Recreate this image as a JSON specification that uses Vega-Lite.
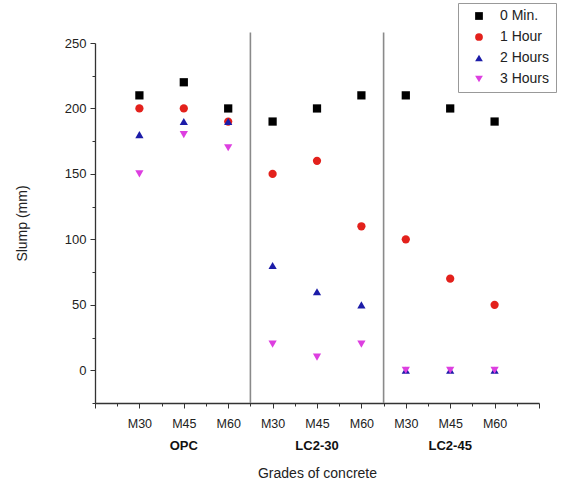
{
  "$schema": "https://vega.github.io/schema/vega-lite/v6.json",
  "width": 444,
  "height": 360,
  "autosize": {"type": "none"},
  "padding": {"left": 95, "top": 43, "right": 29, "bottom": 88},
  "background": "white",
  "config": {
    "font": "Liberation Sans",
    "view": {"stroke": null}
  },
  "datasets": {
    "points": [
      {"group": "OPC", "grade": "M30", "x": 1, "series": "0 Min.", "slump": 210},
      {"group": "OPC", "grade": "M45", "x": 2, "series": "0 Min.", "slump": 220},
      {"group": "OPC", "grade": "M60", "x": 3, "series": "0 Min.", "slump": 200},
      {"group": "LC2-30", "grade": "M30", "x": 4, "series": "0 Min.", "slump": 190},
      {"group": "LC2-30", "grade": "M45", "x": 5, "series": "0 Min.", "slump": 200},
      {"group": "LC2-30", "grade": "M60", "x": 6, "series": "0 Min.", "slump": 210},
      {"group": "LC2-45", "grade": "M30", "x": 7, "series": "0 Min.", "slump": 210},
      {"group": "LC2-45", "grade": "M45", "x": 8, "series": "0 Min.", "slump": 200},
      {"group": "LC2-45", "grade": "M60", "x": 9, "series": "0 Min.", "slump": 190},
      {"group": "OPC", "grade": "M30", "x": 1, "series": "1 Hour", "slump": 200},
      {"group": "OPC", "grade": "M45", "x": 2, "series": "1 Hour", "slump": 200},
      {"group": "OPC", "grade": "M60", "x": 3, "series": "1 Hour", "slump": 190},
      {"group": "LC2-30", "grade": "M30", "x": 4, "series": "1 Hour", "slump": 150},
      {"group": "LC2-30", "grade": "M45", "x": 5, "series": "1 Hour", "slump": 160},
      {"group": "LC2-30", "grade": "M60", "x": 6, "series": "1 Hour", "slump": 110},
      {"group": "LC2-45", "grade": "M30", "x": 7, "series": "1 Hour", "slump": 100},
      {"group": "LC2-45", "grade": "M45", "x": 8, "series": "1 Hour", "slump": 70},
      {"group": "LC2-45", "grade": "M60", "x": 9, "series": "1 Hour", "slump": 50},
      {"group": "OPC", "grade": "M30", "x": 1, "series": "2 Hours", "slump": 180},
      {"group": "OPC", "grade": "M45", "x": 2, "series": "2 Hours", "slump": 190},
      {"group": "OPC", "grade": "M60", "x": 3, "series": "2 Hours", "slump": 190},
      {"group": "LC2-30", "grade": "M30", "x": 4, "series": "2 Hours", "slump": 80},
      {"group": "LC2-30", "grade": "M45", "x": 5, "series": "2 Hours", "slump": 60},
      {"group": "LC2-30", "grade": "M60", "x": 6, "series": "2 Hours", "slump": 50},
      {"group": "LC2-45", "grade": "M30", "x": 7, "series": "2 Hours", "slump": 0},
      {"group": "LC2-45", "grade": "M45", "x": 8, "series": "2 Hours", "slump": 0},
      {"group": "LC2-45", "grade": "M60", "x": 9, "series": "2 Hours", "slump": 0},
      {"group": "OPC", "grade": "M30", "x": 1, "series": "3 Hours", "slump": 150},
      {"group": "OPC", "grade": "M45", "x": 2, "series": "3 Hours", "slump": 180},
      {"group": "OPC", "grade": "M60", "x": 3, "series": "3 Hours", "slump": 170},
      {"group": "LC2-30", "grade": "M30", "x": 4, "series": "3 Hours", "slump": 20},
      {"group": "LC2-30", "grade": "M45", "x": 5, "series": "3 Hours", "slump": 10},
      {"group": "LC2-30", "grade": "M60", "x": 6, "series": "3 Hours", "slump": 20},
      {"group": "LC2-45", "grade": "M30", "x": 7, "series": "3 Hours", "slump": 0},
      {"group": "LC2-45", "grade": "M45", "x": 8, "series": "3 Hours", "slump": 0},
      {"group": "LC2-45", "grade": "M60", "x": 9, "series": "3 Hours", "slump": 0}
    ],
    "separators": [
      {"x": 3.5, "y": -25, "y2": 258},
      {"x": 6.5, "y": -25, "y2": 258}
    ],
    "groups": [
      {"x": 2, "group": "OPC"},
      {"x": 5, "group": "LC2-30"},
      {"x": 8, "group": "LC2-45"}
    ]
  },
  "layer": [
    {
      "data": {"name": "separators"},
      "mark": {"type": "rule", "color": "#8a8a8a", "strokeWidth": 1.6, "clip": false},
      "encoding": {
        "x": {"field": "x", "type": "quantitative", "scale": {"domain": [0, 10], "nice": false, "zero": false}},
        "y": {"field": "y", "type": "quantitative", "scale": {"domain": [-25, 250], "nice": false, "zero": false}},
        "y2": {"field": "y2"}
      }
    },
    {
      "data": {"name": "points"},
      "mark": {"type": "point", "filled": true, "opacity": 1, "clip": false},
      "encoding": {
        "x": {
          "field": "x", "type": "quantitative",
          "scale": {"domain": [0, 10], "nice": false, "zero": false},
          "axis": {
            "title": "Grades of concrete",
            "titleFontSize": 14, "titleFontWeight": "normal", "titleColor": "#222",
            "titlePadding": 37,
            "values": [0, 0.5, 1, 1.5, 2, 2.5, 3, 3.5, 4, 4.5, 5, 5.5, 6, 6.5, 7, 7.5, 8, 8.5, 9, 9.5, 10],
            "tickCount": 200,
            "labelExpr": "(datum.value < 1 || datum.value > 9 || datum.value % 1 != 0) ? '' : (datum.value % 3 == 1 ? 'M30' : datum.value % 3 == 2 ? 'M45' : 'M60')",
            "labelFontSize": 12.5, "labelColor": "#222", "labelPadding": 9,
            "labelOverlap": false, "labelFlush": false,
            "tickColor": "#333",
            "tickSize": {"condition": {"test": "datum.value % 1 != 0", "value": 3}, "value": 5},
            "domainColor": "#333", "domainWidth": 1.3,
            "grid": false
          }
        },
        "y": {
          "field": "slump", "type": "quantitative",
          "scale": {"domain": [-25, 250], "nice": false, "zero": false},
          "axis": {
            "title": "Slump (mm)",
            "titleFontSize": 14, "titleFontWeight": "normal", "titleColor": "#222",
            "titlePadding": 35,
            "values": [-25, 0, 25, 50, 75, 100, 125, 150, 175, 200, 225, 250],
            "tickCount": 200,
            "labelExpr": "(datum.value >= 0 && datum.value % 50 == 0) ? ('' + datum.value) : ''",
            "labelOverlap": false,
            "labelFontSize": 13, "labelColor": "#222", "labelPadding": 4,
            "tickColor": "#333",
            "tickSize": {"condition": {"test": "datum.value % 50 != 0", "value": 3}, "value": 5},
            "domainColor": "#333", "domainWidth": 1.3,
            "grid": false
          }
        },
        "color": {
          "field": "series", "type": "nominal",
          "scale": {
            "domain": ["0 Min.", "1 Hour", "2 Hours", "3 Hours"],
            "range": ["#000000", "#e3211c", "#1c1ca8", "#dd3fe0"]
          },
          "legend": {
            "title": null,
            "orient": "none", "legendX": 363, "legendY": -40,
            "labelFontSize": 14, "labelColor": "#222",
            "strokeColor": "#999", "padding": 6, "fillColor": "white",
            "symbolSize": 60, "rowPadding": 7, "labelOffset": 14,
            "symbolOffset": 8
          }
        },
        "shape": {
          "field": "series", "type": "nominal",
          "scale": {
            "domain": ["0 Min.", "1 Hour", "2 Hours", "3 Hours"],
            "range": ["square", "circle", "triangle-up", "triangle-down"]
          },
          "legend": null
        },
        "size": {"value": 68},
        "order": {"field": "series"}
      }
    },
    {
      "data": {"name": "groups"},
      "mark": {"type": "text", "fontSize": 13, "fontWeight": "bold", "color": "#111", "dy": 43, "baseline": "middle", "clip": false},
      "encoding": {
        "x": {"field": "x", "type": "quantitative", "scale": {"domain": [0, 10], "nice": false, "zero": false}},
        "y": {"datum": -25, "type": "quantitative", "scale": {"domain": [-25, 250], "nice": false, "zero": false}},
        "text": {"field": "group"}
      }
    }
  ]
}
